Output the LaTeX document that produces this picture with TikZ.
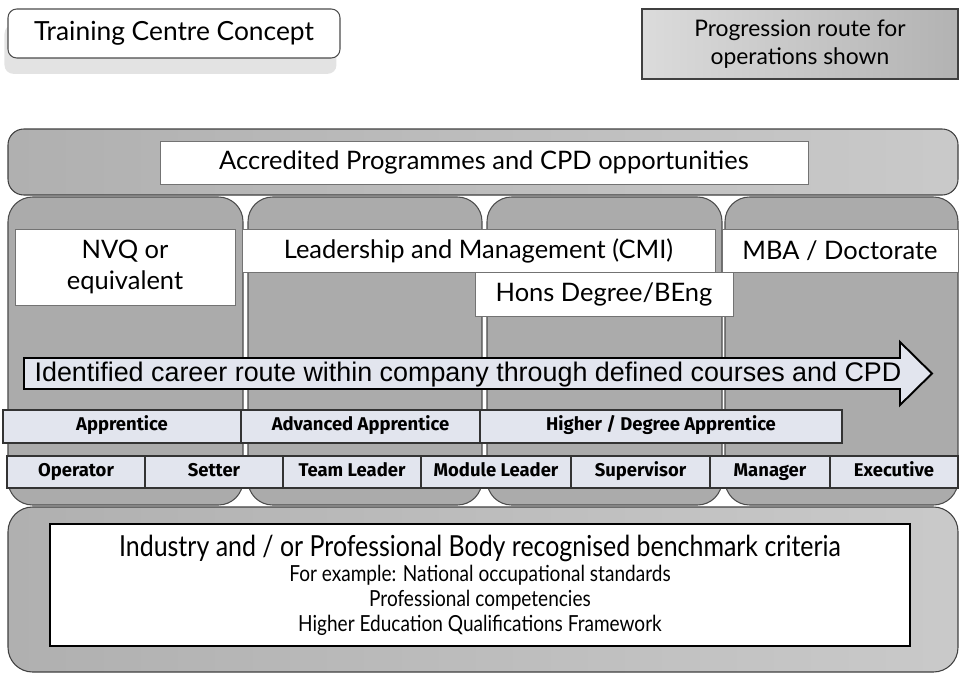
\documentclass[tikz,border=0pt]{standalone}
\usepackage{fontspec}
\setmainfont{Lato}
\newfontfamily\arialfont{Liberation Sans}
\newfontfamily\rolefont{Fira Sans}
\newfontfamily\narrowfont{Lato}[FakeStretch=0.86]
\usetikzlibrary{shadows}
\definecolor{palerow}{RGB}{226,229,238}

\begin{document}
\begin{tikzpicture}[
    band/.style={draw=black!75, line width=0.6pt, rounded corners=9pt,
        left color=gray!62, right color=gray!42, inner sep=0pt,
        minimum width=19cm},
    column/.style={draw=black!70, line width=0.6pt, rounded corners=14pt,
        minimum width=#1, minimum height=6.16cm, inner sep=0pt,
        top color=gray!66, middle color=gray!42, bottom color=gray!66},
    whitebox/.style={draw=black!55, fill=white, inner sep=0pt, align=center,
        font=\fontsize{14.5}{18}\selectfont},
    rowbox/.style={draw=black!80, line width=0.6pt, fill=palerow, inner sep=0pt,
        minimum width=#1, text height=7.5pt, text depth=2.5pt,
        font=\rolefont\bfseries\fontsize{10.5}{12}\selectfont},
    careerarrow/.style={draw=black, line width=1.1pt, fill=palerow, line join=miter},
]
    \useasboundingbox (0,0) rectangle (19.2,-13.54);

    \node[draw=black!70, line width=0.6pt, fill=white, rounded corners=5pt,
        minimum width=6.64cm, minimum height=0.98cm, inner sep=0pt,
        drop shadow={shadow xshift=-2pt, shadow yshift=-9pt, opacity=0.22},
        font=\fontsize{15}{18}\selectfont]
        (title) at (3.48,-0.67) {Training Centre Concept};
    \node[draw=black!75, line width=0.6pt, left color=gray!28, right color=gray!60,
        minimum width=6.32cm, minimum height=1.40cm, inner sep=0pt, align=center,
        font=\fontsize{13}{16}\selectfont]
        (legend) at (16.0,-0.88) {Progression route for\\operations shown};

    \node[band, minimum height=1.32cm] (cpdband) at (9.66,-3.24) {};
    \node[whitebox, minimum width=12.96cm, minimum height=0.86cm]
        (cpd) at (9.68,-3.25) {Accredited Programmes and CPD opportunities};

    \node[column=4.70cm] (col1) at (2.51,-7.02) {};
    \node[column=4.68cm] (col2) at (7.30,-7.02) {};
    \node[column=4.70cm] (col3) at (12.09,-7.02) {};
    \node[column=4.66cm] (col4) at (16.83,-7.02) {};

    \node[whitebox, minimum width=4.40cm, minimum height=1.52cm]
        (nvq) at (2.50,-5.34) {NVQ or\\equivalent};
    \node[whitebox, minimum width=9.46cm, minimum height=0.86cm]
        (cmi) at (9.57,-5.01) {Leadership and Management (CMI)};
    \node[whitebox, minimum width=4.72cm, minimum height=0.86cm]
        (mba) at (16.80,-5.01) {MBA / Doctorate};
    \node[whitebox, minimum width=5.16cm, minimum height=0.88cm]
        (hons) at (12.08,-5.88) {Hons Degree/BEng};

    \draw[careerarrow] (0.48,-7.16) -- (18.0,-7.16) -- (18.0,-6.84) -- (18.64,-7.47)
        -- (18.0,-8.10) -- (18.0,-7.78) -- (0.48,-7.78) -- cycle;
    \node[font=\arialfont\fontsize{15.3}{17}\selectfont, inner sep=0pt]
        (route) at (9.36,-7.50)
        {Identified career route within company through defined courses and CPD};

    \node[rowbox=4.76cm, minimum height=0.66cm] (appr) at (2.44,-8.53) {Apprentice};
    \node[rowbox=4.78cm, minimum height=0.66cm] (advappr) at (7.21,-8.53) {Advanced Apprentice};
    \node[rowbox=7.24cm, minimum height=0.66cm] (higher) at (13.22,-8.53) {Higher / Degree Apprentice};

    \node[rowbox=2.76cm, minimum height=0.64cm] (operator) at (1.52,-9.44) {Operator};
    \node[rowbox=2.76cm, minimum height=0.64cm] (setter) at (4.28,-9.44) {Setter};
    \node[rowbox=2.76cm, minimum height=0.64cm] (teamlead) at (7.04,-9.44) {Team Leader};
    \node[rowbox=3.00cm, minimum height=0.64cm] (modlead) at (9.92,-9.44) {Module Leader};
    \node[rowbox=2.78cm, minimum height=0.64cm] (super) at (12.81,-9.44) {Supervisor};
    \node[rowbox=2.40cm, minimum height=0.64cm] (manager) at (15.40,-9.44) {Manager};
    \node[rowbox=2.56cm, minimum height=0.64cm] (exec) at (17.88,-9.44) {Executive};

    \node[band, rounded corners=14pt, minimum height=3.30cm] (benchband) at (9.66,-11.79) {};
    \node[draw=black, line width=0.8pt, fill=white, minimum width=17.20cm,
        minimum height=2.44cm, inner sep=0pt, align=center,
        font=\narrowfont\fontsize{12.6}{14.2}\selectfont]
        (bench) at (9.60,-11.70)
        {{\fontsize{16.5}{19}\selectfont Industry and / or Professional Body recognised benchmark criteria}\\
         For example: National occupational standards\\
         Professional competencies\\
         Higher Education Qualifications Framework};
\end{tikzpicture}
\end{document}
